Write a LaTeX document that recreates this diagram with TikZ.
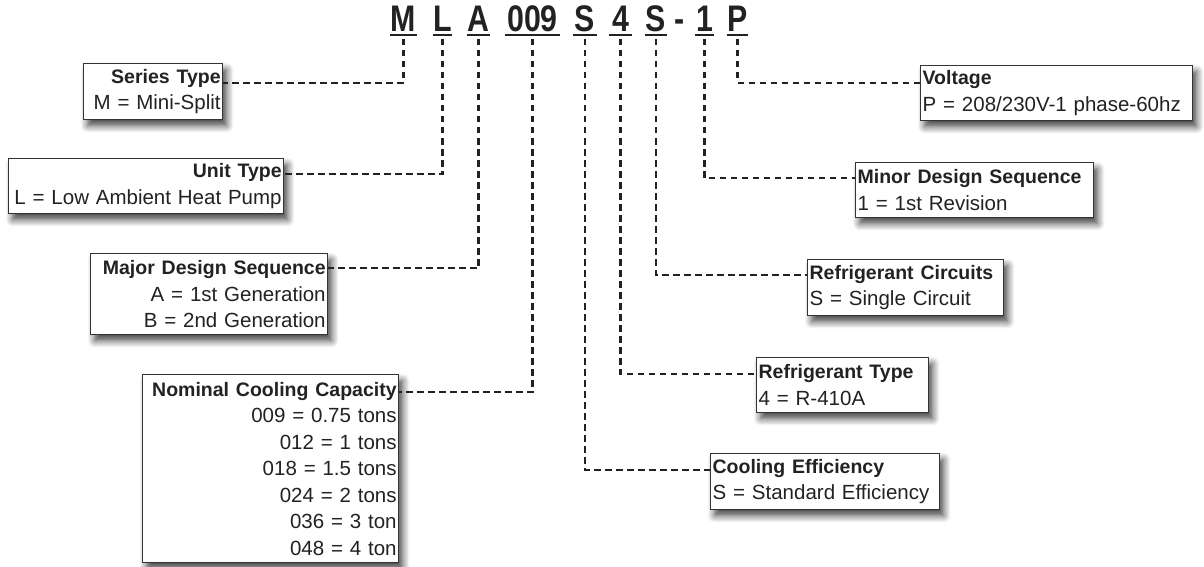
\documentclass[tikz,border=0pt]{standalone}
\usepackage{fontspec}
\setmainfont{Liberation Sans}
\newfontfamily\codefont[FakeStretch=0.82]{Liberation Sans}
\usetikzlibrary{shadows.blur}
\definecolor{ink}{HTML}{222222}
\definecolor{edge}{HTML}{333333}
\tikzset{
  codeletter/.style={inner sep=0pt, anchor=south, text height=26pt, text depth=0pt,
    font=\codefont\bfseries\fontsize{37}{37}\selectfont, text=ink},
  uline/.style={line width=2.6pt, draw=ink},
  dashline/.style={line width=2.8pt, draw=ink, dash pattern=on 6.5pt off 4.5pt},
  infobox/.style={draw=edge, line width=1.3pt, fill=white, text=ink, anchor=north west,
    inner xsep=2pt, inner ysep=1pt, font=\fontsize{20.5}{26.5}\selectfont,
    blur shadow={shadow xshift=4pt, shadow yshift=-6pt, shadow blur steps=8, shadow opacity=75, shadow blur radius=7pt}},
}
\newcommand{\ttl}[1]{\mbox{\bfseries\fontsize{19.5}{26.5}\selectfont #1}}
\newcommand{\lline}[1]{\mbox{#1}}
\begin{document}
\begin{tikzpicture}[x=1pt, y=-1pt]
\useasboundingbox (0,0) rectangle (1204,567);

% code letters
\node[codeletter, minimum width=27pt] (cM) at (403.5,32) {M};
\node[codeletter, minimum width=19pt] (cL) at (442.5,32) {L};
\node[codeletter, minimum width=23pt] (cA) at (478.5,32) {A};
\node[codeletter, minimum width=55pt] (cN) at (532.5,32) {009};
\node[codeletter, minimum width=24pt] (cS) at (585,32) {S};
\node[codeletter, minimum width=23pt] (cR) at (620.5,32) {4};
\node[codeletter, minimum width=22pt] (cC) at (656,32) {S};
\node[codeletter] (cD) at (679.5,32) {-};
\node[codeletter, minimum width=18pt] (cO) at (704.5,32) {1};
\node[codeletter, minimum width=21pt] (cP) at (737.5,32) {P};
\foreach \n in {cM,cL,cA,cN,cS,cR,cC,cO,cP}
  \draw[uline] ([yshift=-3pt]\n.south west) -- ([yshift=-3pt]\n.south east);

% boxes, left side
\node[infobox, minimum width=139pt, minimum height=56pt, text width=135pt, align=right] (series) at (83,63)
  {\ttl{Series Type}\\\lline{M = Mini-Split}};
\node[infobox, minimum width=275pt, minimum height=55pt, text width=271pt, align=right] (unit) at (8,158)
  {\ttl{Unit Type}\\\lline{L = Low Ambient Heat Pump}};
\node[infobox, minimum width=237pt, minimum height=81pt, text width=233pt, align=right] (major) at (90,253)
  {\ttl{Major Design Sequence}\\\lline{A = 1st Generation}\\\lline{B = 2nd Generation}};
\node[infobox, minimum width=256pt, minimum height=188pt, text width=252pt, align=right] (nominal) at (142,374)
  {\ttl{Nominal Cooling Capacity}\\\lline{009 = 0.75 tons}\\\lline{012 = 1 tons}\\\lline{018 = 1.5 tons}\\\lline{024 = 2 tons}\\\lline{036 = 3 ton}\\\lline{048 = 4 ton}};

% boxes, right side
\node[infobox, minimum width=272pt, minimum height=55pt, text width=268pt, align=left] (voltage) at (920,65)
  {\ttl{Voltage}\\\lline{P = 208/230V-1 phase-60hz}};
\node[infobox, minimum width=238pt, minimum height=55pt, text width=234pt, align=left] (minor) at (855,162)
  {\ttl{Minor Design Sequence}\\\lline{1 = 1st Revision}};
\node[infobox, minimum width=196pt, minimum height=56pt, text width=192pt, align=left] (circuits) at (807,259)
  {\ttl{Refrigerant Circuits}\\\lline{S = Single Circuit}};
\node[infobox, minimum width=172pt, minimum height=55pt, text width=168pt, align=left] (reftype) at (756,357)
  {\ttl{Refrigerant Type}\\\lline{4 = R-410A}};
\node[infobox, minimum width=229pt, minimum height=56pt, text width=225pt, align=left] (cooling) at (710,453)
  {\ttl{Cooling Efficiency}\\\lline{S = Standard Efficiency}};

% connectors
\draw[dashline] ([yshift=-7pt]cM.south) |- ([yshift=-20pt]series.north east);
\draw[dashline] ([yshift=-7pt]cL.south) |- ([yshift=-16pt]unit.north east);
\draw[dashline] ([yshift=-7pt]cA.south) |- ([yshift=-15pt]major.north east);
\draw[dashline] ([yshift=-7pt]cN.south) |- ([yshift=-18pt]nominal.north east);
\draw[dashline] ([yshift=-7pt]cS.south) |- ([yshift=-17pt]cooling.north west);
\draw[dashline] ([yshift=-7pt]cR.south) |- ([yshift=-17pt]reftype.north west);
\draw[dashline] ([yshift=-7pt]cC.south) |- ([yshift=-16pt]circuits.north west);
\draw[dashline] ([yshift=-7pt]cO.south) |- ([yshift=-16pt]minor.north west);
\draw[dashline] ([yshift=-7pt]cP.south) |- ([yshift=-18pt]voltage.north west);
\end{tikzpicture}
\end{document}
